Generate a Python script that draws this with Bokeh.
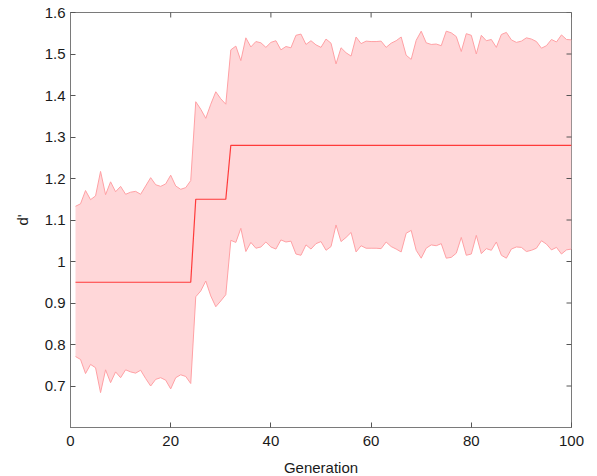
import math
from bokeh.plotting import figure
from bokeh.models import FixedTicker, Range1d, CustomJSTickFormatter
from bokeh.embed import file_html
from bokeh.resources import INLINE

generation = list(range(1, 101))

upper = [
    1.133, 1.139, 1.171, 1.149, 1.158, 1.217, 1.161, 1.192, 1.168, 1.181,
    1.162, 1.167, 1.169, 1.162, 1.182, 1.202, 1.185, 1.181, 1.187, 1.208,
    1.182, 1.174, 1.178, 1.195, 1.385, 1.367, 1.345, 1.379, 1.409, 1.392,
    1.379, 1.510, 1.519, 1.484, 1.539, 1.517, 1.530, 1.527, 1.516, 1.528,
    1.532, 1.510, 1.518, 1.515, 1.545, 1.548, 1.523, 1.532, 1.522, 1.516,
    1.536, 1.526, 1.476, 1.515, 1.503, 1.495, 1.541, 1.525, 1.531, 1.530,
    1.530, 1.531, 1.516, 1.526, 1.532, 1.541, 1.497, 1.487, 1.533, 1.555,
    1.527, 1.523, 1.524, 1.520, 1.555, 1.551, 1.542, 1.506, 1.549, 1.545,
    1.500, 1.545, 1.532, 1.535, 1.516, 1.547, 1.552, 1.534, 1.528, 1.531,
    1.539, 1.536, 1.530, 1.514, 1.520, 1.535, 1.529, 1.546, 1.535, 1.534,
]

lower = [
    0.771, 0.764, 0.730, 0.752, 0.744, 0.684, 0.739, 0.708, 0.734, 0.720,
    0.739, 0.734, 0.731, 0.738, 0.718, 0.700, 0.716, 0.720, 0.714, 0.693,
    0.720, 0.727, 0.723, 0.706, 0.915, 0.929, 0.953, 0.917, 0.891, 0.905,
    0.920, 1.051, 1.046, 1.080, 1.024, 1.046, 1.032, 1.035, 1.047, 1.035,
    1.030, 1.052, 1.047, 1.049, 1.018, 1.015, 1.040, 1.030, 1.043, 1.048,
    1.027, 1.036, 1.088, 1.048, 1.058, 1.070, 1.023, 1.038, 1.032, 1.032,
    1.032, 1.031, 1.047, 1.036, 1.030, 1.023, 1.068, 1.075, 1.027, 1.008,
    1.032, 1.040, 1.038, 1.043, 1.008, 1.010, 1.020, 1.058, 1.015, 1.018,
    1.063, 1.019, 1.031, 1.027, 1.047, 1.015, 1.008, 1.030, 1.035, 1.034,
    1.024, 1.027, 1.032, 1.050, 1.042, 1.028, 1.034, 1.018, 1.028, 1.030,
]

mean_d = [
    0.95, 0.95, 0.95, 0.95, 0.95, 0.95, 0.95, 0.95, 0.95, 0.95,
    0.95, 0.95, 0.95, 0.95, 0.95, 0.95, 0.95, 0.95, 0.95, 0.95,
    0.95, 0.95, 0.95, 0.95, 1.15, 1.15, 1.15, 1.15, 1.15, 1.15,
    1.15, 1.28, 1.28, 1.28, 1.28, 1.28, 1.28, 1.28, 1.28, 1.28,
    1.28, 1.28, 1.28, 1.28, 1.28, 1.28, 1.28, 1.28, 1.28, 1.28,
    1.28, 1.28, 1.28, 1.28, 1.28, 1.28, 1.28, 1.28, 1.28, 1.28,
    1.28, 1.28, 1.28, 1.28, 1.28, 1.28, 1.28, 1.28, 1.28, 1.28,
    1.28, 1.28, 1.28, 1.28, 1.28, 1.28, 1.28, 1.28, 1.28, 1.28,
    1.28, 1.28, 1.28, 1.28, 1.28, 1.28, 1.28, 1.28, 1.28, 1.28,
    1.28, 1.28, 1.28, 1.28, 1.28, 1.28, 1.28, 1.28, 1.28, 1.28,
]

x_ticks = [0, 20, 40, 60, 80, 100]
y_ticks = [0.7, 0.8, 0.9, 1.0, 1.1, 1.2, 1.3, 1.4, 1.5, 1.6]
x_min, x_max = 0, 100
y_min, y_max = 0.6, 1.6

FONT = "Liberation Sans"
AXIS_COLOR = "#7a7a7a"
TICK_COLOR = "#555555"

p = figure(
    width=597, height=476,
    frame_width=501, frame_height=415,
    min_border_left=70, min_border_right=26, min_border_top=12, min_border_bottom=49,
    x_range=Range1d(x_min, x_max), y_range=Range1d(y_min, y_max),
    output_backend="svg", toolbar_location=None,
    background_fill_color="white", border_fill_color="white",
)
p.outline_line_color = AXIS_COLOR
p.grid.visible = False

p.varea(x=generation, y1=lower, y2=upper, fill_color="#ffd7d9")
p.line(generation, upper, line_color="#ffa0a4", line_width=1)
p.line(generation, lower, line_color="#ffa0a4", line_width=1)
p.line(generation, mean_d, line_color="#ff3a3a", line_width=1.2)

# inward ticks on the top and right edges of the box (half of each dash is clipped by the frame)
p.scatter(x=x_ticks, y=[y_max] * len(x_ticks), marker="dash", size=10,
          angle=math.pi / 2, line_color=TICK_COLOR, line_width=1)
p.scatter(x=[x_max] * len(y_ticks), y=y_ticks, marker="dash", size=10,
          line_color=TICK_COLOR, line_width=1)

p.xaxis.ticker = FixedTicker(ticks=x_ticks)
p.yaxis.ticker = FixedTicker(ticks=y_ticks)
p.yaxis.formatter = CustomJSTickFormatter(code="return String(Math.round(tick*10)/10);")
p.xaxis.axis_label = "Generation"
p.yaxis.axis_label = "d'"
p.xaxis.major_label_standoff = 8
p.yaxis.major_label_standoff = 5
p.xaxis.axis_label_standoff = 10
p.yaxis.axis_label_standoff = 11

for ax in (p.xaxis[0], p.yaxis[0]):
    ax.major_tick_in = 5
    ax.major_tick_out = 0
    ax.minor_tick_in = 0
    ax.minor_tick_out = 0
    ax.axis_line_color = AXIS_COLOR
    ax.major_tick_line_color = TICK_COLOR
    ax.major_label_text_font = FONT
    ax.major_label_text_font_size = "15px"
    ax.major_label_text_color = "#1a1a1a"
    ax.axis_label_text_font = FONT
    ax.axis_label_text_font_size = "15px"
    ax.axis_label_text_font_style = "normal"
    ax.axis_label_text_color = "#1a1a1a"

open("out.html", "w").write(file_html(p, INLINE))
